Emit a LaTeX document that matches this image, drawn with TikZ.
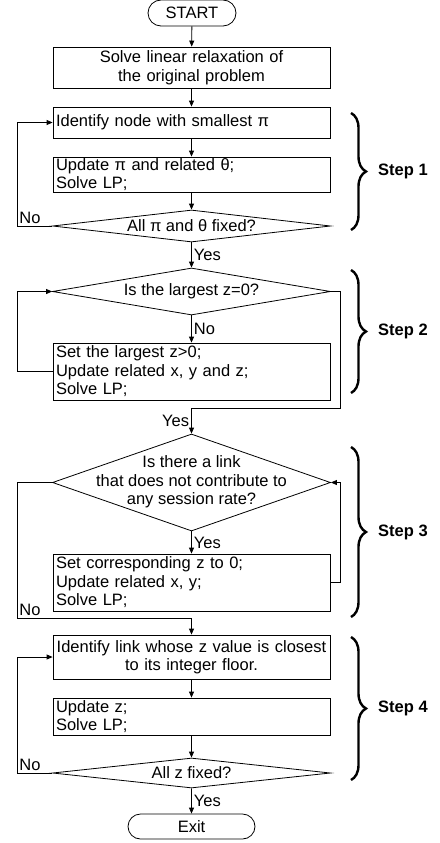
\documentclass[tikz,border=0pt]{standalone}
\usepackage{fontspec}
\setmainfont{Liberation Sans}
\usetikzlibrary{positioning,calc,arrows.meta,shapes.geometric,shapes.misc,decorations.pathreplacing}
\tikzset{>={Triangle[length=6pt,width=5pt]}}
\tikzset{
  box/.style={draw,rectangle,text width=271pt,inner xsep=3pt,inner ysep=0pt,align=left},
  cbox/.style={box,align=center},
  dec/.style={draw,diamond,inner sep=0pt,minimum width=278pt},
  term/.style={draw,rounded rectangle,inner sep=0pt},
  lbl/.style={inner sep=2pt},
  stepbrace/.style={decorate,decoration={brace,amplitude=15pt},line width=2.4pt},
}

\begin{document}
\begin{tikzpicture}[x=1pt,y=-1pt,line width=0.8pt,font=\fontsize{16.5}{18.5}\selectfont]
\useasboundingbox (0,0) rectangle (439,843);
\coordinate (lft) at (17,0);
\coordinate (rgt) at (340,0);
\coordinate (yes2) at (191.5,408);
\coordinate (no3) at (191.5,618);
\node[term,minimum width=88pt,minimum height=26pt] (start) at (192,13) {START};
\node[cbox,minimum height=41pt] (relax) at (191.5,67.5) {Solve linear relaxation of\\the original problem};
\node[box,minimum height=31pt] (ident) at (191.5,122.5) {Identify node with smallest π};
\node[box,minimum height=35pt] (upi) at (191.5,174.5) {Update π and related θ;\\Solve LP;};
\node[dec,minimum height=32pt] (fixpi) at (191.5,226) {\makebox[0pt]{All π and θ fixed?}};
\node[dec,minimum height=47pt] (zero) at (191.5,291.5) {\makebox[0pt]{Is the largest z=0?}};
\node[box,minimum height=57pt] (setz) at (191.5,371.5) {Set the largest z>0;\\Update related x, y and z;\\Solve LP;};
\node[dec,minimum height=97pt] (link) at (191.5,482.5) {\makebox[0pt]{\begin{tabular}{@{}c@{}}Is there a link\\that does not contribute to\\any session rate?\end{tabular}}};
\node[box,minimum height=57pt] (setzero) at (191.5,582.5) {Set corresponding z to 0;\\Update related x, y;\\Solve LP;};
\node[cbox,minimum height=44pt] (close) at (191.5,657) {Identify link whose z value is closest\\to its integer floor.};
\node[box,minimum height=37pt] (upz) at (191.5,716.5) {Update z;\\Solve LP;};
\node[dec,minimum height=30pt] (fixz) at (191.5,773) {\makebox[0pt]{All z fixed?}};
\node[term,minimum width=127pt,minimum height=25pt] (exit) at (191.5,826.5) {Exit};
\draw[->] (start) -- (relax);
\draw[->] (relax) -- (ident);
\draw[->] (ident) -- (upi);
\draw[->] (upi) -- (fixpi);
\draw[->] (fixpi) -- node[lbl,right] {Yes} (zero);
\draw[->] (zero) -- node[lbl,right] {No} (setz);
\draw[->] (link) -- node[lbl,right] {Yes} (setzero);
\draw[->] (close) -- (upz);
\draw[->] (upz) -- (fixz);
\draw[->] (fixz) -- node[lbl,right] {Yes} (exit);
\draw[->] (fixpi.west) -- (fixpi.west -| lft) node[lbl,above right] {No} |- (ident.west);
\draw[->] (setz.west) -- (setz.west -| lft) |- (zero.west);
\draw[->] (zero.east) -| (rgt |- yes2) -- (yes2) -- node[lbl,left] {Yes} (link.north);
\draw[->] (setzero.east) -- (setzero.east -| rgt) |- (link.east);
\draw[->] (link.west) -- (link.west -| lft) -- (lft |- no3) node[lbl,above right] {No} -- (no3) -- (close.north);
\draw[->] (fixz.west) -- (fixz.west -| lft) node[lbl,above right] {No} |- (close.west);
\draw[stepbrace] (351,113) -- node[lbl,right=24pt,font=\fontsize{16.5}{18.5}\selectfont\bfseries] (s1) {Step 1} (351,230);
\draw[stepbrace] (351,270) -- node[lbl,right=24pt,font=\fontsize{16.5}{18.5}\selectfont\bfseries] (s2) {Step 2} (351,393);
\draw[stepbrace] (351,447) -- node[lbl,right=24pt,font=\fontsize{16.5}{18.5}\selectfont\bfseries] (s3) {Step 3} (351,617);
\draw[stepbrace] (351,637) -- node[lbl,right=24pt,font=\fontsize{16.5}{18.5}\selectfont\bfseries] (s4) {Step 4} (351,780);
\end{tikzpicture}
\end{document}
